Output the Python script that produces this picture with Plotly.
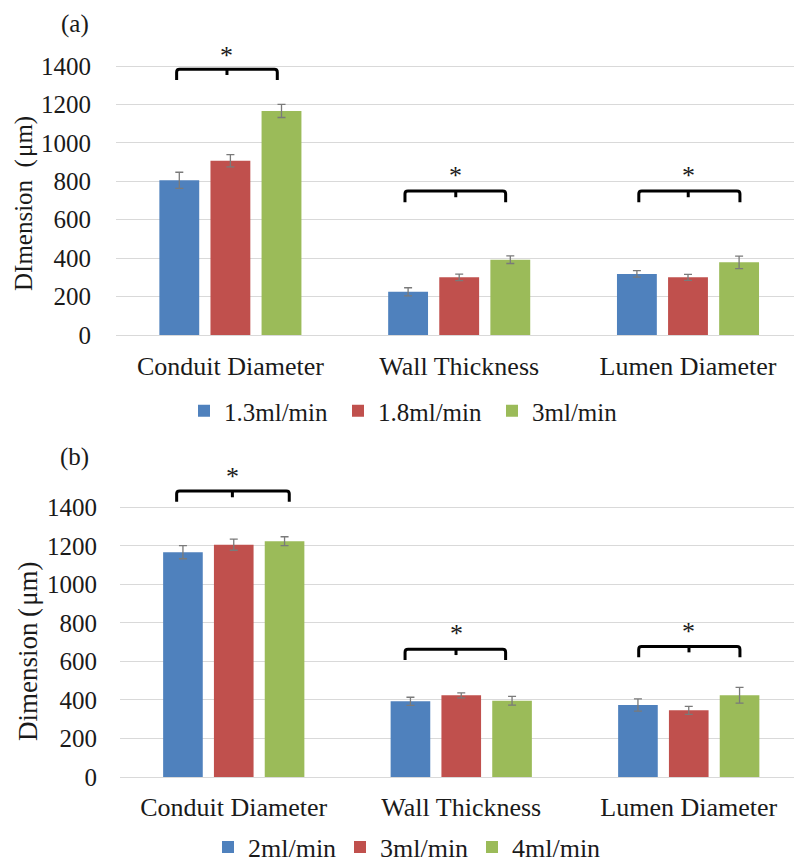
import plotly.graph_objects as go

W, H = 794, 865

# ---- data -------------------------------------------------------------
categories = ["Conduit Diameter", "Wall Thickness", "Lumen Diameter"]

rates_a = ["1.3ml/min", "1.8ml/min", "3ml/min"]
means_a = [
    [805, 225, 318],   # 1.3 ml/min
    [907, 300, 300],   # 1.8 ml/min
    [1166, 392, 378],  # 3 ml/min
]
errs_a = [
    [42, 21, 17],
    [32, 17, 16],
    [34, 20, 33],
]

rates_b = ["2ml/min", "3ml/min", "4ml/min"]
means_b = [
    [1167, 393, 374],  # 2 ml/min
    [1206, 424, 346],  # 3 ml/min
    [1224, 396, 424],  # 4 ml/min
]
errs_b = [
    [34, 21, 32],
    [29, 13, 21],
    [23, 23, 41],
]

y_ticks = [0, 200, 400, 600, 800, 1000, 1200, 1400]

# significance brackets: (category, left offset, right offset, mid offset,
#                         leg bottom, top, mid tick bottom, star y)
brackets_a = [
    (0, -0.235, 0.205, -0.015, 1327, 1383, 1353, 1457),
    (1, -0.237, 0.203, -0.015, 691, 750, 717, 829),
    (2, -0.215, 0.227, 0.001, 691, 750, 717, 829),
]
brackets_b = [
    (0, -0.251, 0.244, -0.006, 1429, 1485, 1452, 1561),
    (1, -0.247, 0.195, -0.023, 607, 663, 633, 744),
    (2, -0.220, 0.225, 0.001, 621, 677, 647, 756),
]

colors = ["#4F81BD", "#C0504D", "#9BBB59"]
FONT = "Liberation Serif, Times New Roman, serif"
TXT = "#1a1a1a"


def px_x(x):
    return x / W


def px_y(y):
    return 1 - y / H


fig = go.Figure()

panels = [
    # rates, means, errs, xaxis, yaxis, legend, brackets
    (rates_a, means_a, errs_a, "x", "y", "legend", brackets_a),
    (rates_b, means_b, errs_b, "x2", "y2", "legend2", brackets_b),
]

for rates, means, errs, xa, ya, lg, brks in panels:
    for i, name in enumerate(rates):
        fig.add_trace(go.Bar(
            x=[0, 1, 2], y=means[i], name=name,
            marker=dict(color=colors[i], line=dict(width=0)),
            error_y=dict(type="data", array=errs[i], color="#7a7a7a",
                         thickness=1.3, width=4),
            xaxis=xa, yaxis=ya, legend=lg,
        ))
    # brackets with slightly rounded corners
    for c, lo, hi, mid, bot, top, tick, star in brks:
        L, R, M = c + lo, c + hi, c + mid
        rx, ry = 0.013, 15
        path = (f"M {L},{bot} L {L},{top - ry} Q {L},{top} {L + rx},{top} "
                f"L {R - rx},{top} Q {R},{top} {R},{top - ry} L {R},{bot}")
        fig.add_shape(type="path", path=path, xref=xa, yref=ya,
                      line=dict(color="black", width=3), layer="above")
        fig.add_shape(type="line", x0=M, x1=M, y0=top, y1=tick,
                      xref=xa, yref=ya, line=dict(color="black", width=3),
                      layer="above")
        fig.add_annotation(x=M, y=star, xref=xa, yref=ya, text="*",
                           showarrow=False, font=dict(size=26, color=TXT),
                           xanchor="center", yanchor="middle")


def y_axis(ticklen):
    return dict(
        tickvals=y_ticks, showgrid=True, gridcolor="#d9d9d9", gridwidth=1,
        zeroline=True, zerolinecolor="#d9d9d9", zerolinewidth=1,
        showline=False, ticks="outside", ticklen=ticklen,
        tickcolor="rgba(0,0,0,0)",
        tickfont=dict(family=FONT, size=25, color=TXT), automargin=False,
    )


def x_axis(ticklen):
    return dict(
        tickvals=[0, 1, 2], ticktext=categories, showgrid=False,
        zeroline=False, showline=False, ticks="outside", ticklen=ticklen,
        tickcolor="rgba(0,0,0,0)",
        tickfont=dict(family=FONT, size=26, color=TXT), automargin=False,
    )


sa = 269 / 1400
sb = 269.7 / 1400
fig.update_layout(
    template="none",
    xaxis=dict(domain=[px_x(116), 1], range=[-0.5, -0.5 + 678 / 228.8],
               anchor="y", **x_axis(8)),
    yaxis=dict(domain=[px_y(335), px_y(30)], range=[0, 305 / sa],
               anchor="x", **y_axis(19)),
    xaxis2=dict(domain=[px_x(120), 1], range=[-0.5, -0.5 + 674 / 227.5],
                anchor="y2", **x_axis(7)),
    yaxis2=dict(domain=[px_y(777), px_y(460)], range=[0, 317 / sb],
                anchor="x2", **y_axis(17)),
    barmode="group", bargap=0.33, bargroupgap=0.22,
    width=W, height=H,
    margin=dict(l=0, r=0, t=0, b=0, pad=0, autoexpand=False),
    paper_bgcolor="white", plot_bgcolor="white",
    font=dict(family=FONT, color=TXT),
    legend=dict(orientation="h", x=px_x(184), xanchor="left",
                y=px_y(411), yanchor="middle",
                font=dict(family=FONT, size=25, color=TXT),
                itemwidth=30, entrywidth=109, bgcolor="rgba(0,0,0,0)"),
    legend2=dict(orientation="h", x=px_x(208), xanchor="left",
                 y=px_y(847), yanchor="middle",
                 font=dict(family=FONT, size=26, color=TXT),
                 itemwidth=30, entrywidth=87, bgcolor="rgba(0,0,0,0)"),
)

# panel tags and y-axis titles
for tag, ty in (("(a)", 24), ("(b)", 457)):
    fig.add_annotation(x=px_x(74.5), y=px_y(ty), xref="paper", yref="paper",
                       text=tag, showarrow=False, xanchor="center",
                       yanchor="middle",
                       font=dict(family=FONT, size=25, color=TXT))
fig.add_annotation(x=px_x(24), y=px_y(204), xref="paper", yref="paper",
                   text="DImension\u2002(\u200aμm)", textangle=-90,
                   xanchor="center", yanchor="middle",
                   showarrow=False, font=dict(family=FONT, size=25, color=TXT))
fig.add_annotation(x=px_x(28), y=px_y(651), xref="paper", yref="paper",
                   text="Dimension\u2009(\u200aμm)", textangle=-90,
                   xanchor="center", yanchor="middle",
                   showarrow=False, font=dict(family=FONT, size=27, color=TXT))

fig.write_html("out.html")
